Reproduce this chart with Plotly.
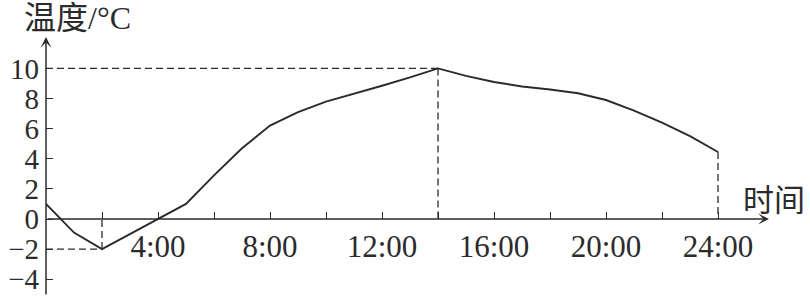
import plotly.graph_objects as go

# ---- data ----
hours = [0, 1, 2, 3, 4, 5, 6, 7, 8, 9, 10, 11, 12, 13, 14, 15, 16, 17, 18, 19, 20, 21, 22, 23, 24]
temps = [1.0, -0.9, -2.0, -1.0, 0.0, 1.0, 2.9, 4.7, 6.2, 7.1, 7.8, 8.3, 8.85, 9.4, 10.0,
         9.5, 9.1, 8.8, 8.6, 8.35, 7.9, 7.2, 6.4, 5.5, 4.45]

x_tick_vals = [2, 4, 6, 8, 10, 12, 14, 16, 18, 20, 22, 24]
x_tick_text = ["", "4:00", "", "8:00", "", "12:00", "", "16:00", "", "20:00", "", "24:00"]
y_tick_vals = [-4, -2, 0, 2, 4, 6, 8, 10]

y_title = "温度/°C"
x_title = "时间"

# ---- layout constants ----
INK = "#2b2b2b"
SERIF = "Liberation Serif, Noto Sans CJK SC, serif"
X_RANGE = [0, 26.571]
Y_RANGE = [-5.113, 12.085]
X_ARROW_END = 25.82

fig = go.Figure()

# guide lines derived from the data
i_max = temps.index(max(temps))
i_min = temps.index(min(temps))
guides = [
    ([hours[0], hours[i_max]], [temps[i_max], temps[i_max]]),
    ([hours[i_max], hours[i_max]], [temps[i_max], 0]),
    ([hours[0], hours[i_min]], [temps[i_min], temps[i_min]]),
    ([hours[i_min], hours[i_min]], [temps[i_min], 0]),
    ([hours[-1], hours[-1]], [temps[-1], 0]),
]
for gx, gy in guides:
    fig.add_trace(go.Scatter(x=gx, y=gy, mode="lines",
                             line=dict(color=INK, width=1.3, dash="7px,4px"),
                             hoverinfo="skip", showlegend=False, cliponaxis=False))

fig.add_trace(go.Scatter(x=hours, y=temps, mode="lines",
                         line=dict(color=INK, width=1.9),
                         showlegend=False, cliponaxis=False))

# axis lines with arrowheads
fig.add_annotation(x=0, y=Y_RANGE[1], ax=0, ay=Y_RANGE[0], xref="x", yref="y",
                   axref="x", ayref="y", showarrow=True, arrowhead=3, arrowsize=1.2,
                   arrowwidth=1.5, arrowcolor=INK, text="")
fig.add_annotation(x=X_ARROW_END, y=0, ax=0, ay=0, xref="x", yref="y",
                   axref="x", ayref="y", showarrow=True, arrowhead=3, arrowsize=1.2,
                   arrowwidth=1.5, arrowcolor=INK, text="")

# axis titles
fig.add_annotation(x=22, y=18, xref="paper", yref="paper", text=y_title, showarrow=False,
                   xanchor="left", yanchor="middle",
                   font=dict(family=SERIF, size=32, color=INK))
fig.add_annotation(x=741, y=200, xref="paper", yref="paper", text=x_title, showarrow=False,
                   xanchor="left", yanchor="middle",
                   font=dict(family=SERIF, size=31, color=INK))

W, H = 810, 296
ML, MR, MT, MB = 46, 20, 37, 0
pw, ph = W - ML - MR, H - MT - MB

# convert paper-pixel annotation coords
for ann in fig.layout.annotations:
    if ann.xref == "paper":
        ann.x = (ann.x - ML) / pw
        ann.y = 1 - (ann.y - MT) / ph

x_axis_pos = (0 - Y_RANGE[0]) / (Y_RANGE[1] - Y_RANGE[0])

fig.update_layout(
    width=W, height=H,
    margin=dict(l=ML, r=MR, t=MT, b=MB, pad=0),
    paper_bgcolor="white", plot_bgcolor="white",
    xaxis=dict(range=X_RANGE, showgrid=False, zeroline=False, showline=False,
               anchor="free", position=x_axis_pos,
               tickmode="array", tickvals=x_tick_vals, ticktext=x_tick_text,
               ticks="inside", ticklen=7, tickwidth=1.3, tickcolor=INK,
               ticklabelstandoff=6, ticklabeloverflow="allow",
               tickfont=dict(family=SERIF, size=31, color=INK), automargin=False),
    yaxis=dict(range=Y_RANGE, showgrid=False, zeroline=False, showline=False,
               tickmode="array", tickvals=y_tick_vals,
               ticks="inside", ticklen=7, tickwidth=1.3, tickcolor=INK,
               ticklabelstandoff=6, ticklabeloverflow="allow",
               tickfont=dict(family=SERIF, size=29, color=INK), automargin=False),
    showlegend=False,
)

fig.write_html("out.html")
